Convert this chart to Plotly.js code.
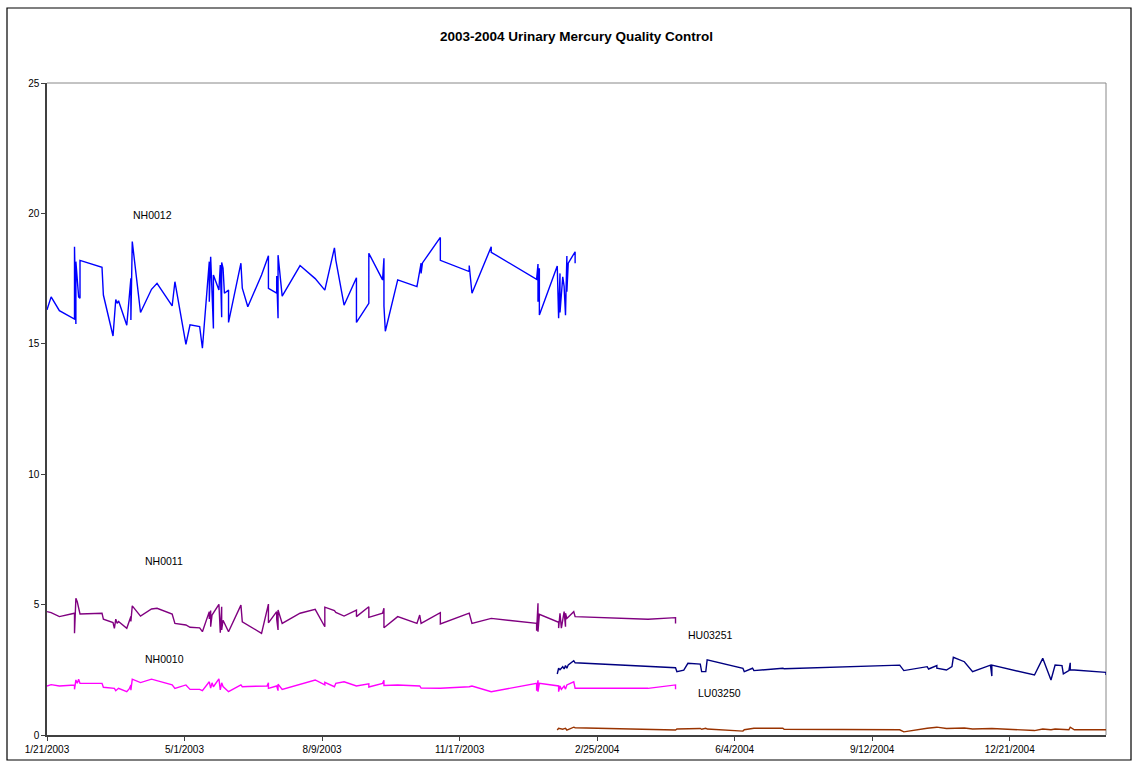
<!DOCTYPE html>
<html>
<head>
<meta charset="utf-8">
<script src="https://cdn.plot.ly/plotly-3.0.1.min.js"></script>
<style>
  html, body { margin: 0; padding: 0; background: #ffffff; }
  #chart { width: 1138px; height: 768px; }
</style>
</head>
<body>
<div id="chart"></div>
<script>
// ---------------- DATA ----------------
const CHART_TITLE = '2003-2004 Urinary Mercury Quality Control';

const X_TICK_VALS = ['2003-01-21','2003-05-01','2003-08-09','2003-11-17','2004-02-25','2004-06-04','2004-09-12','2004-12-21'];
const X_TICK_TEXT = ['1/21/2003','5/1/2003','8/9/2003','11/17/2003','2/25/2004','6/4/2004','9/12/2004','12/21/2004'];
const Y_TICK_VALS = [0, 5, 10, 15, 20, 25];

const SERIES_NAMES = ['NH0012', 'NH0011', 'NH0010', 'HU03251', 'LU03250'];

const NH0012_DATES = ['2003-01-21','2003-01-24','2003-01-30','2003-02-10','2003-02-10','2003-02-11','2003-02-11','2003-02-13','2003-02-14','2003-02-14',
 '2003-03-02','2003-03-03','2003-03-10','2003-03-12','2003-03-13','2003-03-14','2003-03-20','2003-03-23','2003-03-23','2003-03-24',
 '2003-03-30','2003-04-07','2003-04-11','2003-04-22','2003-04-24','2003-05-02','2003-05-05','2003-05-12','2003-05-14','2003-05-19',
 '2003-05-19','2003-05-20','2003-05-20','2003-05-22','2003-05-22','2003-05-26','2003-05-27','2003-05-28','2003-05-28','2003-05-29',
 '2003-05-30','2003-06-02','2003-06-02','2003-06-11','2003-06-12','2003-06-16','2003-06-26','2003-07-01','2003-07-01','2003-07-07',
 '2003-07-07','2003-07-08','2003-07-08','2003-07-11','2003-07-24','2003-08-04','2003-08-11','2003-08-18','2003-08-19','2003-08-25',
 '2003-09-03','2003-09-03','2003-09-12','2003-09-12','2003-09-22','2003-09-23','2003-09-23','2003-09-24','2003-10-03','2003-10-17',
 '2003-10-20','2003-10-20','2003-10-21','2003-11-03','2003-11-03','2003-11-24','2003-11-24','2003-11-26','2003-12-10','2003-12-10',
 '2004-01-12','2004-01-13','2004-01-13','2004-01-14','2004-01-14','2004-01-27','2004-01-28','2004-01-29','2004-01-29','2004-01-31',
 '2004-02-01','2004-02-02','2004-02-03','2004-02-03','2004-02-04','2004-02-09','2004-02-09'];
const NH0012_VALUES = [16.3,16.8,16.27,15.95,18.72,15.76,18.15,16.8,16.75,18.2,
 17.93,16.87,15.3,16.7,16.55,16.65,15.71,17.51,15.91,18.92,
 16.2,17.09,17.32,16.45,17.38,14.98,15.73,15.66,14.83,18.15,
 16.61,18.02,18.34,15.59,17.64,17.06,18.02,16.02,18.12,17.9,
 16.94,17.06,15.82,18.09,17.13,16.42,17.64,18.38,17.13,16.94,
 17.6,15.98,18.4,16.83,18.0,17.5,17.06,18.68,18.21,16.48,
 17.53,15.82,16.55,18.47,17.45,18.28,16.45,15.48,17.45,17.19,
 18.09,17.7,18.1,19.08,18.2,17.77,18.0,16.94,18.72,18.51,
 17.47,18.06,16.61,17.9,16.1,17.98,15.98,17.7,16.2,17.57,
 17.2,16.1,18.37,17.0,18.09,18.53,18.09];

const NH0011_DATES = ['2003-01-21','2003-01-24','2003-01-30','2003-02-10','2003-02-10','2003-02-11','2003-02-12','2003-02-13','2003-02-14','2003-03-02',
 '2003-03-03','2003-03-10','2003-03-11','2003-03-12','2003-03-13','2003-03-14','2003-03-20','2003-03-23','2003-03-23','2003-03-24',
 '2003-03-30','2003-04-07','2003-04-11','2003-04-22','2003-04-24','2003-05-02','2003-05-05','2003-05-12','2003-05-14','2003-05-19',
 '2003-05-19','2003-05-20','2003-05-20','2003-05-21','2003-05-26','2003-05-27','2003-05-28','2003-05-28','2003-05-29','2003-06-02',
 '2003-06-11','2003-06-12','2003-06-26','2003-07-01','2003-07-01','2003-07-07','2003-07-07','2003-07-08','2003-07-08','2003-07-11',
 '2003-07-24','2003-08-04','2003-08-11','2003-08-11','2003-08-18','2003-08-19','2003-08-25','2003-09-03','2003-09-03','2003-09-12',
 '2003-09-12','2003-09-22','2003-09-23','2003-09-23','2003-10-03','2003-10-17','2003-10-19','2003-10-20','2003-11-03','2003-11-03',
 '2003-11-24','2003-11-26','2003-12-10','2004-01-12','2004-01-12','2004-01-13','2004-01-13','2004-01-14','2004-01-28','2004-01-28',
 '2004-01-29','2004-01-30','2004-02-01','2004-02-02','2004-02-02','2004-02-03','2004-02-08','2004-02-09','2004-04-02','2004-04-22',
 '2004-04-22'];
const NH0011_VALUES = [4.73,4.69,4.54,4.67,3.9,5.24,5.11,4.86,4.64,4.67,
 4.44,4.31,4.09,4.44,4.28,4.35,4.09,4.54,4.35,4.95,
 4.56,4.83,4.86,4.64,4.28,4.22,4.13,4.11,3.96,4.73,
 4.45,4.77,4.15,4.6,5.01,3.92,4.92,4.03,4.4,3.96,
 4.98,4.34,3.9,5.02,4.3,4.73,4.45,4.03,4.79,4.28,
 4.67,4.82,4.15,4.9,4.77,4.7,4.56,4.79,4.54,4.92,
 4.51,4.67,4.86,4.11,4.54,4.28,4.6,4.28,4.69,4.26,
 4.67,4.28,4.47,4.28,4.0,5.05,3.96,4.63,4.32,4.1,
 4.67,4.1,4.73,4.15,4.67,4.47,4.73,4.54,4.44,4.5,
 4.28];

const NH0010_DATES = ['2003-01-21','2003-01-24','2003-01-30','2003-02-10','2003-02-10','2003-02-11','2003-02-12','2003-02-13','2003-02-14','2003-03-02',
 '2003-03-03','2003-03-11','2003-03-12','2003-03-14','2003-03-20','2003-03-22','2003-03-23','2003-03-23','2003-03-24','2003-03-30',
 '2003-04-07','2003-04-14','2003-04-22','2003-04-24','2003-05-02','2003-05-05','2003-05-12','2003-05-14','2003-05-19','2003-05-20',
 '2003-05-21','2003-05-22','2003-05-26','2003-05-27','2003-05-28','2003-05-29','2003-06-02','2003-06-11','2003-06-12','2003-06-16',
 '2003-06-30','2003-07-01','2003-07-01','2003-07-07','2003-07-08','2003-07-08','2003-07-11','2003-08-04','2003-08-11','2003-08-11',
 '2003-08-18','2003-08-19','2003-08-25','2003-09-03','2003-09-12','2003-09-12','2003-09-22','2003-09-23','2003-09-23','2003-10-03',
 '2003-10-19','2003-10-20','2003-11-03','2003-11-24','2003-11-26','2003-12-10','2004-01-12','2004-01-12','2004-01-13','2004-01-13',
 '2004-01-14','2004-01-28','2004-01-28','2004-01-29','2004-01-30','2004-02-01','2004-02-02','2004-02-03','2004-02-08','2004-02-09',
 '2004-04-02','2004-04-22','2004-04-22'];
const NH0010_VALUES = [1.88,1.93,1.88,1.92,1.75,2.11,1.98,2.14,1.98,1.98,
 1.83,1.79,1.7,1.79,1.66,1.79,1.92,1.72,2.14,2.01,
 2.14,2.04,1.92,1.79,1.92,1.75,1.75,1.7,2.04,1.8,
 2.0,1.85,2.15,1.73,2.0,1.86,1.66,1.92,1.85,1.86,
 1.88,2.0,1.79,1.88,1.7,1.95,1.75,2.11,1.92,2.02,
 1.85,1.98,2.04,1.88,1.96,1.84,1.98,2.1,1.9,1.92,
 1.88,1.8,1.79,1.85,1.88,1.66,1.98,1.7,2.1,1.66,
 1.98,1.88,1.66,1.88,1.75,1.88,1.76,1.92,2.04,1.79,
 1.79,1.92,1.75];

const HU03251_DATES = ['2004-01-27','2004-01-28','2004-01-29','2004-01-31','2004-02-01','2004-02-02','2004-02-03','2004-02-04','2004-02-08','2004-02-09',
 '2004-04-22','2004-04-23','2004-04-28','2004-04-29','2004-05-01','2004-05-10','2004-05-11','2004-05-14','2004-05-15','2004-06-10',
 '2004-06-11','2004-06-17','2004-06-18','2004-07-09','2004-07-10','2004-10-02','2004-10-05','2004-10-22','2004-10-23','2004-10-29',
 '2004-10-29','2004-11-05','2004-11-09','2004-11-10','2004-11-18','2004-11-24','2004-12-07','2004-12-08','2004-12-08','2005-01-08',
 '2005-01-14','2005-01-20','2005-01-23','2005-01-28','2005-01-29','2005-02-02','2005-02-03','2005-02-03','2005-02-06','2005-03-01',
 '2005-03-01'];
const HU03251_VALUES = [2.34,2.56,2.5,2.62,2.53,2.66,2.56,2.69,2.85,2.77,
 2.58,2.43,2.49,2.58,2.75,2.72,2.43,2.43,2.88,2.56,
 2.43,2.56,2.47,2.56,2.54,2.68,2.47,2.62,2.53,2.66,
 2.56,2.49,2.62,2.98,2.81,2.43,2.68,2.26,2.68,2.3,
 2.94,2.11,2.68,2.66,2.34,2.47,2.77,2.49,2.49,2.4,
 2.3];

const LU03250_DATES = ['2004-01-27','2004-01-28','2004-01-31','2004-02-02','2004-02-03','2004-02-08','2004-02-09','2004-04-22','2004-04-23','2004-04-28',
 '2004-05-01','2004-05-10','2004-05-11','2004-05-14','2004-05-15','2004-06-10','2004-06-11','2004-06-17','2004-06-18','2004-07-09',
 '2004-07-10','2004-10-02','2004-10-05','2004-10-22','2004-10-29','2004-11-05','2004-11-10','2004-11-18','2004-11-24','2004-12-08',
 '2005-01-08','2005-01-14','2005-01-20','2005-01-23','2005-02-02','2005-02-03','2005-02-06','2005-03-01'];
const LU03250_VALUES = [0.19,0.26,0.22,0.26,0.19,0.3,0.28,0.19,0.23,0.24,
 0.26,0.25,0.22,0.26,0.23,0.15,0.2,0.26,0.26,0.26,
 0.22,0.2,0.12,0.26,0.3,0.25,0.26,0.27,0.23,0.25,
 0.17,0.23,0.2,0.23,0.2,0.3,0.2,0.2];

// ---------------- STYLE ----------------
const FONT = 'Arial, "Liberation Sans", Helvetica, sans-serif';
const COLORS = ['#0000FF', '#800080', '#FF00FF', '#000080', '#993300'];

const seriesX = [NH0012_DATES, NH0011_DATES, NH0010_DATES, HU03251_DATES, LU03250_DATES];
const seriesY = [NH0012_VALUES, NH0011_VALUES, NH0010_VALUES, HU03251_VALUES, LU03250_VALUES];

const traces = SERIES_NAMES.map((name, i) => ({
  type: 'scatter',
  mode: 'lines',
  name: name,
  x: seriesX[i],
  y: seriesY[i],
  line: { color: COLORS[i], width: 1.4 },
  hoverinfo: 'x+y+name'
}));

// label positions (paper coordinates)
const labelPos = [
  { x: 0.0992, y: 0.7975 },
  { x: 0.1105, y: 0.2669 },
  { x: 0.1105, y: 0.1166 },
  { x: 0.6270, y: 0.1534 },
  { x: 0.6346, y: 0.0644 }
];

const annotations = SERIES_NAMES.map((name, i) => ({
  xref: 'paper', yref: 'paper',
  x: labelPos[i].x, y: labelPos[i].y,
  text: name, showarrow: false,
  xanchor: 'center', yanchor: 'middle',
  font: { family: FONT, size: 10.5, color: '#000000' }
}));

const layout = {
  width: 1138,
  height: 768,
  margin: { l: 47, r: 32, t: 83, b: 33, pad: 0 },
  paper_bgcolor: '#ffffff',
  plot_bgcolor: '#ffffff',
  showlegend: false,
  title: {
    text: '<b>' + CHART_TITLE + '</b>',
    font: { family: FONT, size: 13.5, color: '#000000' },
    x: 0.5, xref: 'paper', xanchor: 'center',
    y: 1 - 36 / 768, yref: 'container', yanchor: 'middle'
  },
  xaxis: {
    type: 'date',
    range: ['2003-01-21', '2005-03-01'],
    tickmode: 'array',
    tickvals: X_TICK_VALS,
    ticktext: X_TICK_TEXT,
    ticks: 'outside', ticklen: 4, tickwidth: 1, tickcolor: '#404040',
    showgrid: false, zeroline: false,
    showline: true, linecolor: '#404040', linewidth: 1.5,
    tickfont: { family: FONT, size: 10, color: '#000000' },
    fixedrange: true
  },
  yaxis: {
    range: [0, 25],
    tickmode: 'array',
    tickvals: Y_TICK_VALS,
    ticks: 'outside', ticklen: 4, tickwidth: 1, tickcolor: '#404040',
    showgrid: false, zeroline: false,
    showline: true, linecolor: '#404040', linewidth: 1.5,
    tickfont: { family: FONT, size: 10, color: '#000000' },
    fixedrange: true
  },
  annotations: annotations,
  shapes: [
    // chart area border
    { type: 'rect', xref: 'paper', yref: 'paper',
      x0: -0.03777, x1: 1.02361, y0: -0.03834, y1: 1.11503,
      line: { color: '#000000', width: 1.2 }, fillcolor: 'rgba(0,0,0,0)', layer: 'above' },
    // plot area top & right borders
    { type: 'line', xref: 'paper', yref: 'paper', x0: 0, x1: 1, y0: 1, y1: 1,
      line: { color: '#888888', width: 1 }, layer: 'below' },
    { type: 'line', xref: 'paper', yref: 'paper', x0: 1, x1: 1, y0: 0, y1: 1,
      line: { color: '#888888', width: 1 }, layer: 'below' }
  ]
};

Plotly.newPlot('chart', traces, layout, { displayModeBar: false, staticPlot: false });
</script>
</body>
</html>
